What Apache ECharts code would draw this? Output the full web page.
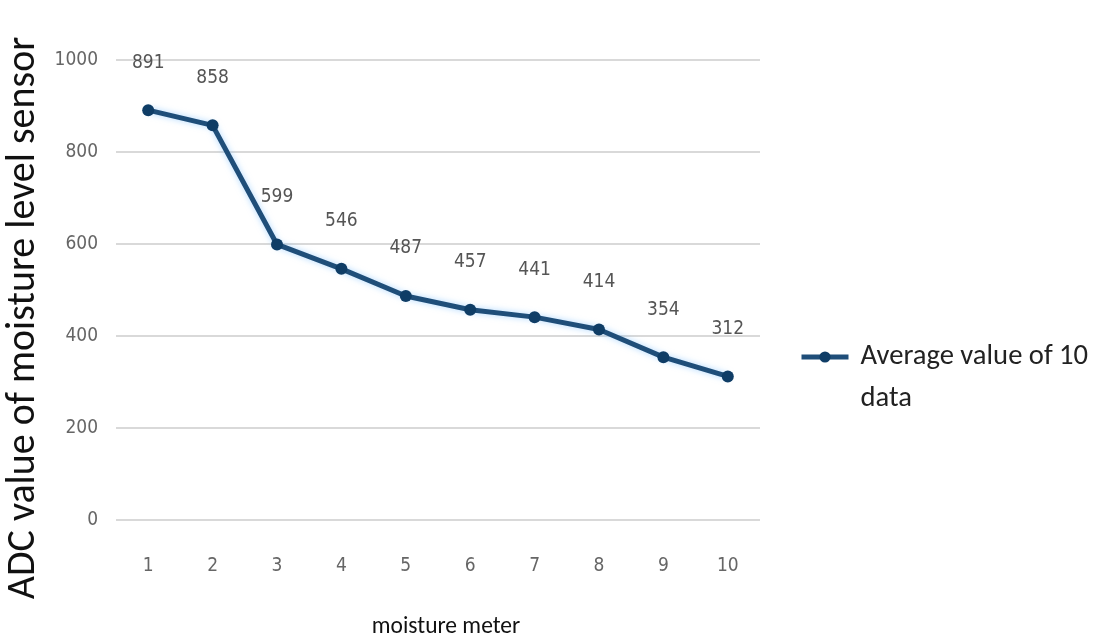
<!DOCTYPE html>
<html><head><meta charset="utf-8">
<script src="https://cdn.jsdelivr.net/npm/echarts@6/dist/echarts.min.js"></script>
<style>html,body{margin:0;padding:0;background:#fff}#c{width:1093px;height:640px}</style>
</head><body><div id="c"></div>
<script>
const categories = ['1','2','3','4','5','6','7','8','9','10'];
const values = [891, 858, 599, 546, 487, 457, 441, 414, 354, 312];
const seriesName = 'Average value of 10\ndata';
const yTicks = [0, 200, 400, 600, 800, 1000];
const xName = 'moisture meter';
const yName = 'ADC value of moisture level sensor';

const narrow = '"DejaVu Sans Condensed", "Liberation Sans Narrow", sans-serif';
const calibri = 'Carlito, "Open Sans", sans-serif';
const chart = echarts.init(document.getElementById('c'));
chart.setOption({
  animation: false,
  backgroundColor: '#fff',
  grid: { left: 116, right: 333, top: 60, bottom: 120, outerBoundsMode: 'none', containLabel: false },
  legend: {
    show: true,
    orient: 'vertical',
    left: 794, top: 289,
    itemWidth: 47, itemHeight: 14,
    itemGap: 8,
    lineStyle: { width: 5, color: '#1f4e79' },
    formatter: name => '\n' + name,
    textStyle: { fontSize: 28.6, color: '#222', fontFamily: calibri, lineHeight: 42, padding: [0, 0, 0, 7] },
    data: [{ name: seriesName }]
  },
  xAxis: {
    type: 'category', data: categories, boundaryGap: true,
    axisLine: { show: false }, axisTick: { show: false },
    axisLabel: { color: '#666', fontSize: 19, margin: 37, fontFamily: narrow },
    name: xName, nameLocation: 'middle', nameGap: 95,
    nameTextStyle: { fontSize: 23.5, color: '#111', fontFamily: calibri, padding: [0, 0, 0, 16] }
  },
  yAxis: {
    type: 'value', min: yTicks[0], max: yTicks[yTicks.length - 1], interval: 200,
    axisLine: { show: false }, axisTick: { show: false },
    axisLabel: { color: '#666', fontSize: 19, margin: 18, fontFamily: narrow, formatter: v => String(v) },
    splitLine: { lineStyle: { color: '#d9d9d9', width: 2 } },
    name: yName, nameLocation: 'middle', nameGap: 72, nameRotate: 90,
    nameTextStyle: { fontSize: 40, color: '#111', fontFamily: calibri, padding: [0, 56, 0, 0] }
  },
  series: [{
    name: seriesName,
    type: 'line',
    data: values,
    symbol: 'circle', symbolSize: 12,
    itemStyle: { color: '#0f3d66' },
    lineStyle: { color: '#1f4e79', width: 5, shadowColor: 'rgba(120,190,255,0.6)', shadowBlur: 6 },
    label: { show: true, position: 'top', distance: 32, color: '#555', fontSize: 19, fontFamily: narrow }
  }]
});
</script></body></html>
